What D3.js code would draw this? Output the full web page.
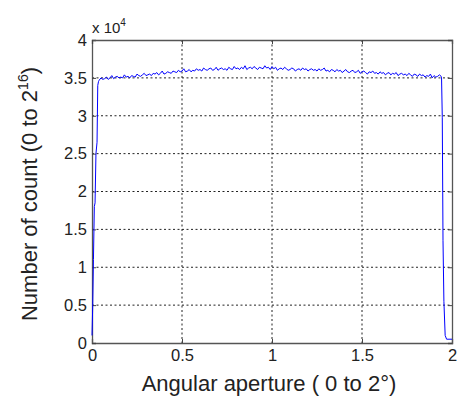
<!DOCTYPE html>
<html>
<head>
<meta charset="utf-8">
<script src="https://cdn.jsdelivr.net/npm/d3@7"></script>
<style>
  body { margin: 0; background: #fff; }
  text { font-family: "Liberation Sans", Arial, sans-serif; fill: #222; }
</style>
</head>
<body>
<div id="chart"></div>
<script>
// rising edge, plateau (step 0.01 from 0.04 to 1.94) and falling edge, in units of 1e4
const riseX = [0, 0.004, 0.008, 0.013, 0.017, 0.022, 0.028, 0.032, 0.036]
const riseY = [0.1, 0.5, 1.1, 1.8, 1.85, 2.5, 2.65, 3.4, 3.45]

const plateauStart = 0.04
const plateauY = [
  3.47, 3.50, 3.48, 3.49, 3.51, 3.48, 3.50, 3.53, 3.49, 3.51,
  3.52, 3.50, 3.51, 3.50, 3.54, 3.51, 3.52, 3.50, 3.53, 3.52,
  3.51, 3.55, 3.53, 3.52, 3.54, 3.56, 3.53, 3.54, 3.55, 3.53,
  3.56, 3.55, 3.57, 3.54, 3.56, 3.59, 3.55, 3.56, 3.58, 3.57,
  3.56, 3.59, 3.58, 3.57, 3.60, 3.58, 3.59, 3.62, 3.58, 3.59,
  3.61, 3.58, 3.60, 3.59, 3.62, 3.60, 3.61, 3.59, 3.63, 3.61,
  3.60, 3.62, 3.63, 3.60, 3.61, 3.64, 3.60, 3.62, 3.63, 3.61,
  3.62, 3.60, 3.64, 3.62, 3.61, 3.65, 3.62, 3.63, 3.61, 3.64,
  3.62, 3.66, 3.61, 3.63, 3.64, 3.62, 3.65, 3.63, 3.61, 3.64,
  3.63, 3.62, 3.66, 3.63, 3.64, 3.61, 3.65, 3.62, 3.64, 3.60,
  3.62, 3.63, 3.61, 3.64, 3.62, 3.60, 3.61, 3.63, 3.62, 3.59,
  3.61, 3.62, 3.60, 3.63, 3.61, 3.62, 3.59, 3.61, 3.62, 3.60,
  3.61, 3.59, 3.62, 3.60, 3.61, 3.63, 3.59, 3.60, 3.58, 3.61,
  3.60, 3.58, 3.61, 3.59, 3.60, 3.57, 3.59, 3.61, 3.58, 3.57,
  3.59, 3.60, 3.57, 3.58, 3.60, 3.56, 3.58, 3.59, 3.57, 3.55,
  3.58, 3.57, 3.59, 3.56, 3.57, 3.55, 3.58, 3.56, 3.57, 3.54,
  3.56, 3.57, 3.54, 3.56, 3.55, 3.57, 3.53, 3.55, 3.56, 3.54,
  3.55, 3.53, 3.56, 3.54, 3.52, 3.55, 3.54, 3.52, 3.55, 3.53,
  3.54, 3.51, 3.53, 3.52, 3.55, 3.50, 3.53, 3.51, 3.52, 3.54,
  3.52
]

const fallX = [1.942, 1.946, 1.950, 1.955, 1.962, 1.97, 2.0]
const fallY = [3.5, 2.98, 1.35, 0.55, 0.1, 0.05, 0.05]

const xTicks = [0, 0.5, 1, 1.5, 2]
const yTicks = [0, 0.5, 1, 1.5, 2, 2.5, 3, 3.5, 4]

const data = []
riseX.forEach((x, i) => data.push({x: x, y: riseY[i]}))
plateauY.forEach((y, i) => data.push({x: plateauStart + i * 0.01, y: y}))
fallX.forEach((x, i) => data.push({x: x, y: fallY[i]}))

const W = 457, H = 397
const pLeft = 92, pRight = 452, pTop = 40, pBottom = 343

const svg = d3.select("#chart").append("svg")
    .attr("width", W)
    .attr("height", H)

const x = d3.scaleLinear().domain([0, 2]).range([pLeft, pRight])
const y = d3.scaleLinear().domain([0, 4]).range([pBottom, pTop])

// grid
svg.append("g")
    .selectAll("line")
    .data(xTicks.slice(1, -1))
    .join("line")
    .attr("x1", d => x(d)).attr("x2", d => x(d))
    .attr("y1", pTop).attr("y2", pBottom)
    .attr("stroke", "#222").attr("stroke-width", 1)
    .attr("stroke-dasharray", "2,2.5")

svg.append("g")
    .selectAll("line")
    .data(yTicks.slice(1, -1))
    .join("line")
    .attr("x1", pLeft).attr("x2", pRight)
    .attr("y1", d => y(d)).attr("y2", d => y(d))
    .attr("stroke", "#222").attr("stroke-width", 1)
    .attr("stroke-dasharray", "2,2.5")

// axes (ticks inward)
svg.append("g")
    .attr("transform", `translate(0,${pBottom})`)
    .call(d3.axisBottom(x).tickValues(xTicks).tickSize(-4).tickPadding(6).tickFormat(d3.format("")))
svg.append("g")
    .attr("transform", `translate(${pLeft},0)`)
    .call(d3.axisLeft(y).tickValues(yTicks).tickSize(-4).tickPadding(5).tickFormat(d3.format("")))
svg.append("g")
    .attr("transform", `translate(0,${pTop})`)
    .call(d3.axisTop(x).tickValues(xTicks).tickSize(-4).tickFormat(""))
svg.append("g")
    .attr("transform", `translate(${pRight},0)`)
    .call(d3.axisRight(y).tickValues(yTicks).tickSize(-4).tickFormat(""))

svg.selectAll(".domain").attr("stroke", "#555").attr("stroke-width", 1.3)
svg.selectAll(".tick line").attr("stroke", "#444")
svg.selectAll(".tick text")
    .style("font-family", '"Liberation Sans", Arial, sans-serif')
    .style("font-size", "16.5px")
    .attr("fill", "#222")

// plot line
const line = d3.line()
    .x(d => x(d.x))
    .y(d => y(d.y))

svg.append("path")
    .datum(data)
    .attr("fill", "none")
    .attr("stroke", "#0000ff")
    .attr("stroke-width", 1)
    .attr("d", line)

// exponent label
const exp = svg.append("text")
    .attr("x", pLeft)
    .attr("y", 33)
    .style("font-size", "15px")
exp.append("tspan").text("x 10")
exp.append("tspan").attr("dy", -7).style("font-size", "10px").text("4")

// axis labels
svg.append("text")
    .attr("x", 269)
    .attr("y", 391)
    .attr("text-anchor", "middle")
    .style("font-size", "22px")
    .text("Angular aperture ( 0 to 2°)")

const yl = svg.append("text")
    .attr("transform", `translate(37,194) rotate(-90)`)
    .attr("text-anchor", "middle")
    .style("font-size", "22px")
yl.append("tspan").text("Number of count (0 to 2")
yl.append("tspan").attr("dy", -9).style("font-size", "14px").text("16")
yl.append("tspan").attr("dy", 9).text(")")
</script>
</body>
</html>
